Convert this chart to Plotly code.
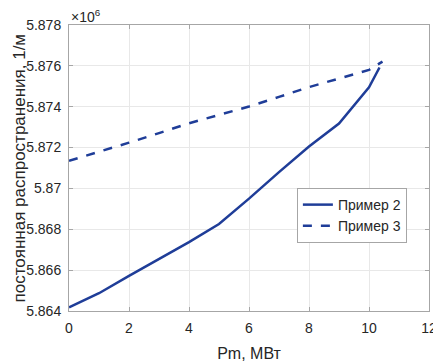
import plotly.graph_objects as go

# Data (y values in units of 10^6 1/m)
x_p2 = [0, 1, 2, 3, 4, 5, 6, 7, 8, 9, 9.5, 10, 10.35]
y_p2 = [5.86418, 5.86487, 5.86572, 5.86655, 5.86737, 5.86826, 5.86950, 5.87080, 5.87205, 5.87318, 5.87405, 5.87495, 5.87592]

x_p3 = [0, 1, 2, 3, 4, 5, 6, 7, 8, 9, 10, 10.45]
y_p3 = [5.87135, 5.87178, 5.87224, 5.87271, 5.87319, 5.87360, 5.87401, 5.87448, 5.87496, 5.87538, 5.87580, 5.87621]

y_ticks = [5.864, 5.866, 5.868, 5.870, 5.872, 5.874, 5.876, 5.878]
y_ticktext = ["5.864", "5.866", "5.868", "5.87", "5.872", "5.874", "5.876", "5.878"]
x_ticks = [0, 2, 4, 6, 8, 10, 12]

line_color = "#1f3d98"
font_family = "Liberation Sans, Arial, sans-serif"
text_color = "#262626"

fig = go.Figure()
fig.add_trace(go.Scatter(x=x_p2, y=y_p2, mode="lines", name="Пример 2",
                         line=dict(color=line_color, width=2.5)))
fig.add_trace(go.Scatter(x=x_p3, y=y_p3, mode="lines", name="Пример 3",
                         line=dict(color=line_color, width=2.5, dash="dash")))

axis_common = dict(showline=True, linecolor="#a6a6a6", linewidth=1, mirror="ticks",
                   ticks="inside", ticklen=4, tickcolor="#a6a6a6",
                   showgrid=True, gridcolor="#e8e8e8", gridwidth=1, zeroline=False,
                   automargin=False,
                   tickfont=dict(family=font_family, size=14, color=text_color))

fig.update_xaxes(range=[0, 12], tickvals=x_ticks, ticklabelstandoff=4,
                 title=dict(text="Pm, МВт", font=dict(family=font_family, size=16, color=text_color)),
                 **axis_common)
fig.update_yaxes(range=[5.864, 5.878], tickvals=y_ticks, ticktext=y_ticktext, ticklabelstandoff=4,
                 **axis_common)

# y-axis title as rotated annotation for exact placement
fig.add_annotation(x=-61 / 360, y=0.5, xref="paper", yref="paper", xanchor="left", yanchor="middle",
                   text="постоянная распространения, 1/м", textangle=-90, showarrow=False,
                   borderpad=0,
                   font=dict(family=font_family, size=17, color=text_color))

fig.add_annotation(x=0, y=1, xref="paper", yref="paper", xanchor="left", yanchor="bottom",
                   text="×10<sup>6</sup>", showarrow=False, yshift=-2,
                   font=dict(family=font_family, size=14, color=text_color))

fig.update_layout(
    width=433, height=354,
    margin=dict(l=61, r=12, t=17, b=51),
    plot_bgcolor="white", paper_bgcolor="white",
    showlegend=True,
    legend=dict(x=0.633, y=0.430, xanchor="left", yanchor="top",
                bgcolor="white", bordercolor="#a6a6a6", borderwidth=1,
                font=dict(family=font_family, size=14, color=text_color),
                tracegroupgap=0, itemwidth=30),
)

fig.write_html("out.html")
